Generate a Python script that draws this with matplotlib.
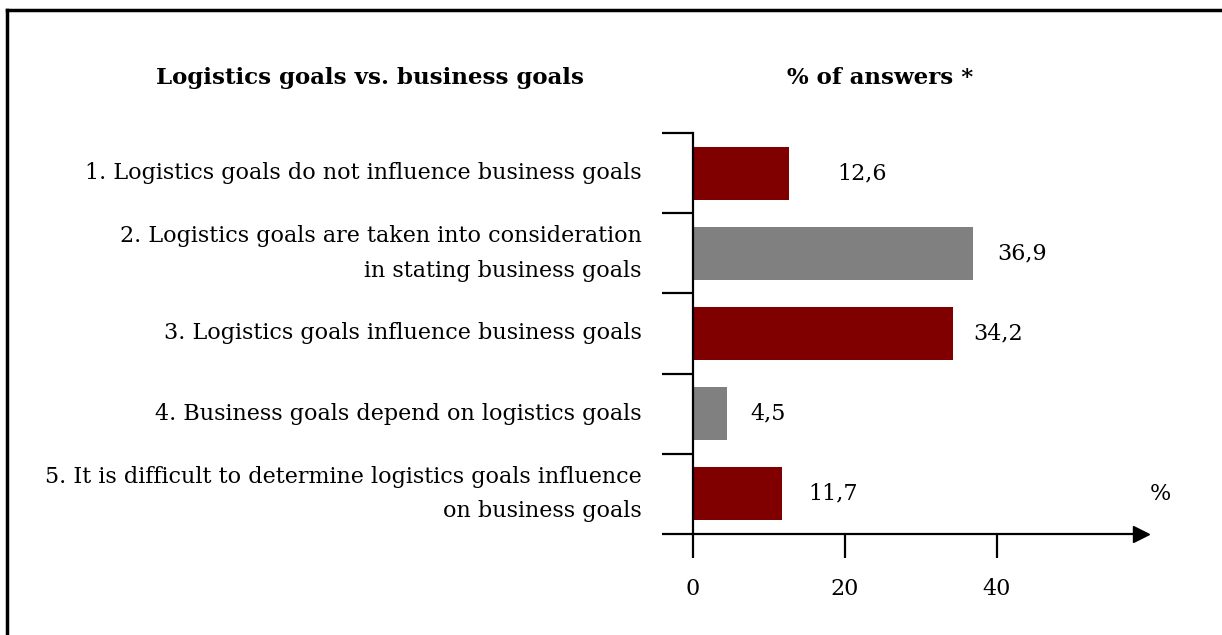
import numpy as np
import matplotlib.pyplot as plt
from matplotlib.lines import Line2D

# categories and values (% of answers)
labels = ["1. Logistics goals do not influence business goals",
          "2. Logistics goals are taken into consideration\nin stating business goals",
          "3. Logistics goals influence business goals",
          "4. Business goals depend on logistics goals",
          "5. It is difficult to determine logistics goals influence\non business goals"]
values = [12.6, 36.9, 34.2, 4.5, 11.7]
colors = ["#800000", "#808080", "#800000", "#808080", "#800000"]
label_pad = [35, 17, 15, 17, 19]  # points

plt.rcParams['font.family'] = ['DejaVu Serif']
fs = 16

fig = plt.figure(figsize=(12.22, 6.35), dpi=100)
ax = fig.add_axes([693/1222, 1-534/635, (1141-693)/1222, (534-133)/635])

y = np.arange(len(values))
ax.barh(y, values, height=0.66, color=colors)
ax.set_ylim(4.5, -0.5)
ax.set_xlim(0, 59)

for s in ['top', 'right']:
    ax.spines[s].set_visible(False)
ax.spines['left'].set_linewidth(1.6)
ax.spines['bottom'].set_linewidth(1.6)

# category separators as major ticks, labels as minor ticks
ax.set_yticks(np.arange(-0.5, 5, 1))
ax.set_yticklabels([])
ax.tick_params(axis='y', which='major', length=22, width=1.6)
ax.set_yticks(y, minor=True)
ax.set_yticklabels(labels, minor=True, fontsize=fs, linespacing=1.75, va='center')
ax.tick_params(axis='y', which='minor', length=0, pad=37)

ax.set_xticks([0, 20, 40])
ax.set_xticklabels(["0", "20", "40"], fontsize=fs)
ax.tick_params(axis='x', length=17, width=1.6, pad=15)

# arrow head on x axis
ax.plot(59, 4.5, marker='>', color='black', markersize=11, clip_on=False)
ax.text(61.5, 4.0, "%", fontsize=fs, ha='center', va='center')

for i, v in enumerate(values):
    ax.annotate(f"{v:.1f}".replace('.', ','), (v, i), xytext=(label_pad[i], 0),
                textcoords='offset points', va='center', fontsize=fs)

fig.text(370/1222, 1-78/635, "Logistics goals vs. business goals",
         fontsize=16.5, fontweight='bold', ha='center', va='center')
fig.text(880/1222, 1-78/635, "% of answers *",
         fontsize=16.5, fontweight='bold', ha='center', va='center')

# frame (top and left edges)
fig.add_artist(Line2D([7.5/1222, 1], [1-9.5/635, 1-9.5/635], color='black', lw=2.5))
fig.add_artist(Line2D([7.5/1222, 7.5/1222], [0, 1-9.5/635], color='black', lw=2.5))

fig.savefig("out.png", dpi=100)
